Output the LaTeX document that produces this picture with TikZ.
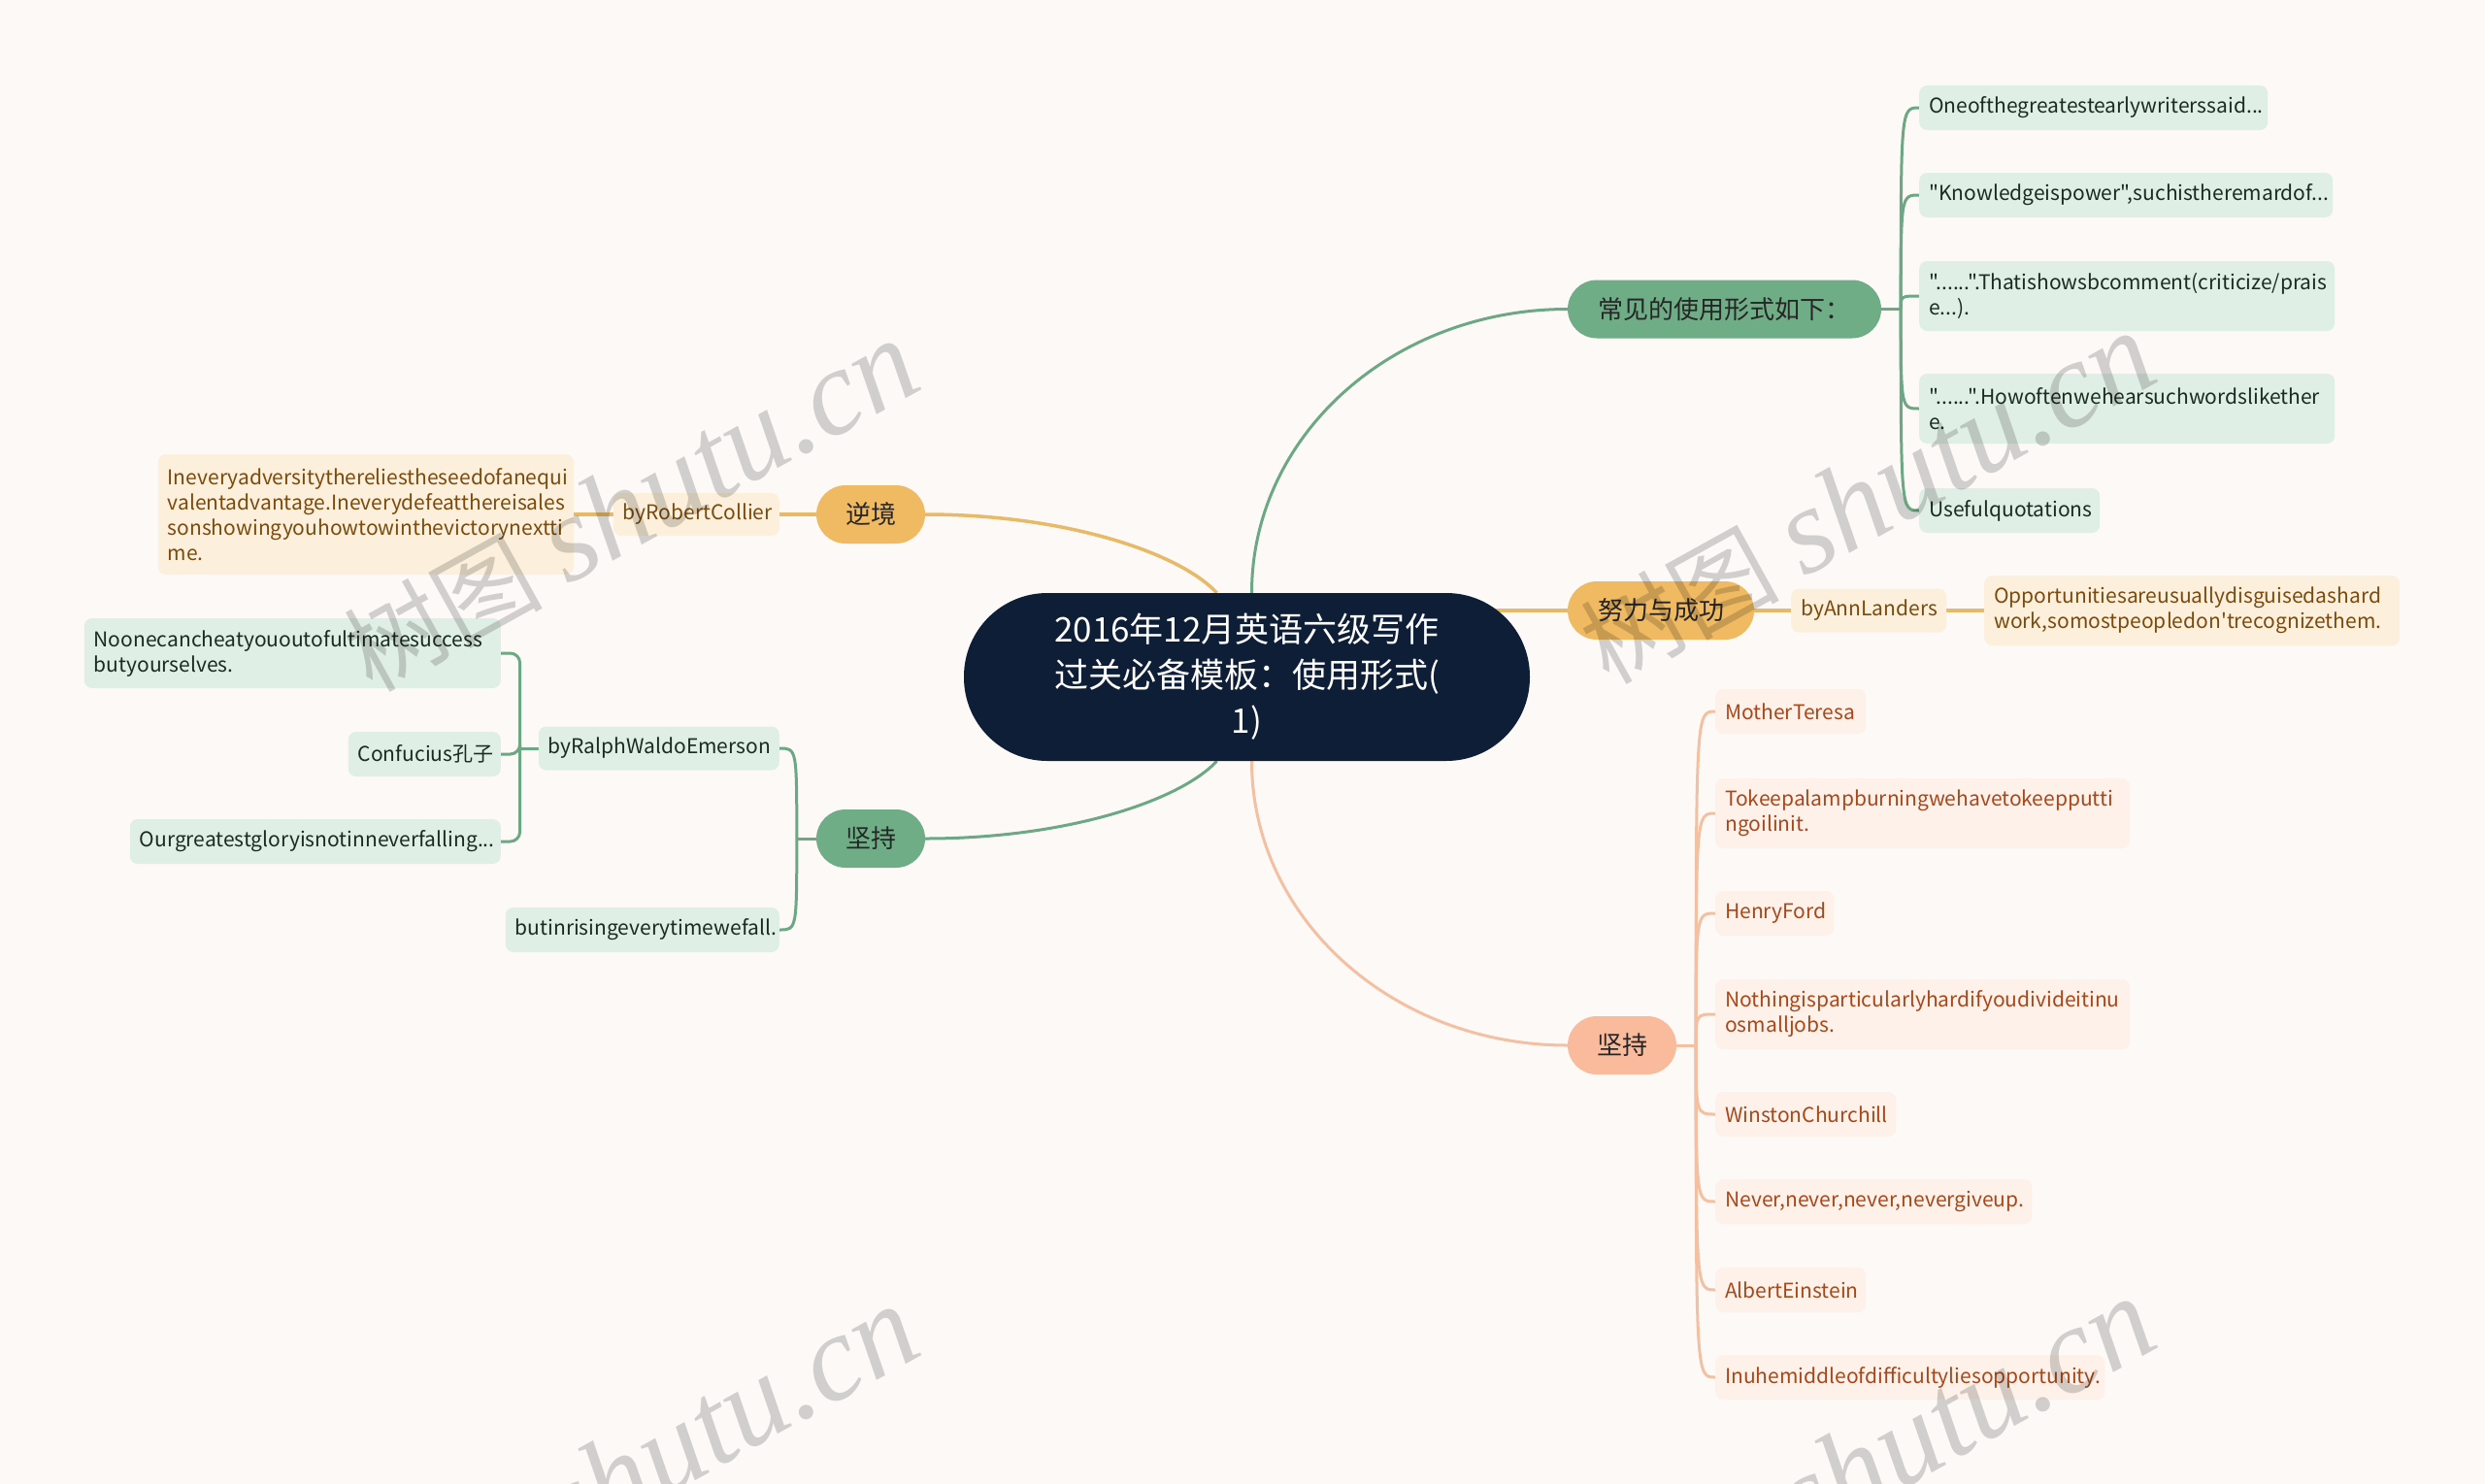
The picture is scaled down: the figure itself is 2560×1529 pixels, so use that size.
\documentclass[tikz,border=0pt]{standalone}
\usepackage{fontspec}
\newfontfamily\cjk{Noto Sans CJK SC}
\newfontfamily\wmfont{Liberation Serif}
\hyphenpenalty=10000
\exhyphenpenalty=10000
\pgfdeclarelayer{bg}
\pgfdeclarelayer{fg}
\pgfsetlayers{bg,main,fg}
\definecolor{bgc}{HTML}{FCF9F7}
\definecolor{navy}{HTML}{0E1E37}
\definecolor{gpill}{HTML}{6FAD86}
\definecolor{glinec}{HTML}{6BA883}
\definecolor{gleaf}{HTML}{E0EFE5}
\definecolor{gtext}{HTML}{1A2B20}
\definecolor{opill}{HTML}{F0BA62}
\definecolor{olinec}{HTML}{E8B967}
\definecolor{oleaf}{HTML}{FCF0DC}
\definecolor{otext}{HTML}{7A4A0E}
\definecolor{spill}{HTML}{F9BB9B}
\definecolor{slinec}{HTML}{F4C0A2}
\definecolor{sleaf}{HTML}{FDF1EA}
\definecolor{stext}{HTML}{A8481A}
\definecolor{pilltext}{HTML}{262626}
\begin{document}
\begin{tikzpicture}[x=1pt,y=-1pt,
  rootnode/.style={fill=navy, text=white, rounded corners=86pt, minimum width=583pt, minimum height=173pt, inner sep=0pt, align=center, font=\cjk\fontsize{35}{47}\selectfont},
  pill/.style={rounded corners=30pt, minimum height=60pt, inner sep=0pt, text=pilltext, font=\cjk\fontsize{26}{30}\selectfont},
  leaf/.style={rounded corners=8pt, inner xsep=10pt, inner ysep=0pt, align=left, font=\cjk\fontsize{21}{26}\selectfont},
  gl/.style={leaf, fill=gleaf, text=gtext},
  ol/.style={leaf, fill=oleaf, text=otext},
  sl/.style={leaf, fill=sleaf, text=stext},
  gline/.style={draw=glinec, line width=3pt},
  oline/.style={draw=olinec, line width=3.5pt},
  sline/.style={draw=slinec, line width=3pt},
  wm/.style={rotate=29, text=black, text opacity=0.17, inner sep=0pt}
]
\useasboundingbox (0,0) rectangle (2560,1529);
\clip (0,0) rectangle (2560,1529);

% root
\node[rootnode] (root) at (1284.5,697.5) {2016年12月英语六级写作\\过关必备模板：使用形式(\\1)};

% main branches
\node[pill, fill=gpill, minimum width=323pt] (gA) at (1776.5,318.5) {常见的使用形式如下：};
\node[pill, fill=opill, minimum width=192pt] (oB) at (1711,629) {努力与成功};
\node[pill, fill=spill, minimum width=112pt] (sC) at (1671,1077) {坚持};
\node[pill, fill=opill, minimum width=112pt] (oD) at (897,530) {逆境};
\node[pill, fill=gpill, minimum width=112pt] (gE) at (897,864) {坚持};

% right green leaves
\node[gl, anchor=west, text width=339pt, minimum height=46pt] (g1) at (1977,111) {Oneofthegreatestearlywriterssaid...};
\node[gl, anchor=west, text width=406pt, minimum height=46pt] (g2) at (1977,201) {"Knowledgeispower",suchistheremardof...};
\node[gl, anchor=west, text width=408pt, minimum height=72pt] (g3) at (1977,305) {"......".Thatishowsbcomment(criticize/prais\\e...).};
\node[gl, anchor=west, text width=408pt, minimum height=72pt] (g4) at (1977,421) {"......".Howoftenwehearsuchwordslikether\\e.};
\node[gl, anchor=west, text width=166pt, minimum height=46pt] (g5) at (1977,526) {Usefulquotations};

% orange right
\node[ol, anchor=west, text width=140pt, minimum height=45pt] (byAL) at (1845,629) {byAnnLanders};
\node[ol, anchor=west, text width=408pt, minimum height=72pt] (opp) at (2044,629) {Opportunitiesareusuallydisguisedashard\\work,somostpeopledon'trecognizethem.};

% orange left
\node[ol, anchor=east, text width=151pt, minimum height=44pt] (byRC) at (803,530) {byRobertCollier};
\node[ol, anchor=east, text width=408pt, minimum height=124pt] (ineq) at (591,530) {Ineveryadversitythereliestheseedofanequi\\valentadvantage.Ineverydefeatthereisales\\sonshowingyouhowtowinthevictorynextti\\me.};

% left green
\node[gl, anchor=east, text width=228pt, minimum height=45pt] (byRWE) at (803,771) {byRalphWaldoEmerson};
\node[gl, anchor=east, text width=262pt, minimum height=46pt] (but) at (803,958) {butinrisingeverytimewefall.};
\node[gl, anchor=east, text width=409pt, minimum height=72pt] (noone) at (516,673) {Noonecancheatyououtofultimatesuccess\\butyourselves.};
\node[gl, anchor=east, text width=137pt, minimum height=46pt] (conf) at (516,777) {Confucius孔子};
\node[gl, anchor=east, text width=362pt, minimum height=46pt] (our) at (516,867) {Ourgreatestgloryisnotinneverfalling...};

% salmon leaves
\node[sl, anchor=west, text width=135pt, minimum height=46pt] (s1) at (1767,733) {MotherTeresa};
\node[sl, anchor=west, text width=407pt, minimum height=72pt] (s2) at (1767,838) {Tokeepalampburningwehavetokeepputti\\ngoilinit.};
\node[sl, anchor=west, text width=102pt, minimum height=46pt] (s3) at (1767,941) {HenryFord};
\node[sl, anchor=west, text width=407pt, minimum height=72pt] (s4) at (1767,1045) {Nothingisparticularlyhardifyoudivideitinu\\osmalljobs.};
\node[sl, anchor=west, text width=166pt, minimum height=46pt] (s5) at (1767,1148) {WinstonChurchill};
\node[sl, anchor=west, text width=306pt, minimum height=46pt] (s6) at (1767,1238) {Never,never,never,nevergiveup.};
\node[sl, anchor=west, text width=135pt, minimum height=46pt] (s7) at (1767,1329) {AlbertEinstein};
\node[sl, anchor=west, text width=381pt, minimum height=46pt] (s8) at (1767,1419) {Inuhemiddleofdifficultyliesopportunity.};

% connectors
\begin{pgfonlayer}{bg}
\fill[bgc] (0,0) rectangle (2560,1529);
\draw[gline] ([xshift=5pt]root.north) .. controls +(0,-162) and +(-180,0) .. (gA.west);
\draw[sline] ([xshift=5pt]root.south) .. controls +(0,162) and +(-180,0) .. (sC.west);
\draw[oline] (root.center |- oB.west) -- (oB.west);
\draw[oline] ([xshift=-31pt]root.north) .. controls +(-38,-41) and +(145,0) .. (oD.east);
\draw[gline] ([xshift=-31pt]root.south) .. controls +(-38,41) and +(145,0) .. (gE.east);

\draw[oline] (oB.east) -- (byAL.west);
\draw[oline] (byAL.east) -- (opp.west);
\draw[oline] (oD.west) -- (byRC.east);
\draw[oline] (byRC.west) -- (ineq.east);

\coordinate (gJ) at ([xshift=20pt]gA.east);
\draw[gline] (gA.east) -- (gJ);
\foreach \n in {g1,g2,g3,g4,g5}
  \draw[gline] (gJ) .. controls (gJ |- \n.west) .. (\n.west);

\coordinate (sJ) at ([xshift=20pt]sC.east);
\draw[sline] (sC.east) -- (sJ);
\foreach \n in {s1,s2,s3,s4,s5,s6,s7,s8}
  \draw[sline] (sJ) .. controls (sJ |- \n.west) .. (\n.west);

\coordinate (eJ) at ([xshift=-20pt]gE.west);
\draw[gline] (gE.west) -- (eJ);
\foreach \n in {byRWE,but}
  \draw[gline] (eJ) .. controls (eJ |- \n.east) .. (\n.east);

\coordinate (wJ) at ([xshift=-19pt]byRWE.west);
\draw[gline] (byRWE.west) -- (wJ);
\foreach \n in {noone,conf,our}
  \draw[gline, rounded corners=10pt] (wJ) |- (\n.east);
\end{pgfonlayer}

% watermarks
\begin{pgfonlayer}{fg}
\foreach \p in {(650,522),(1924,514),(650,1517),(1924,1509)}
  \node[wm] at \p {{\cjk\fontsize{102}{110}\selectfont 树图}\hspace{25pt}{\wmfont\itshape\fontsize{126}{140}\selectfont shutu.cn}};
\end{pgfonlayer}
\end{tikzpicture}
\end{document}
